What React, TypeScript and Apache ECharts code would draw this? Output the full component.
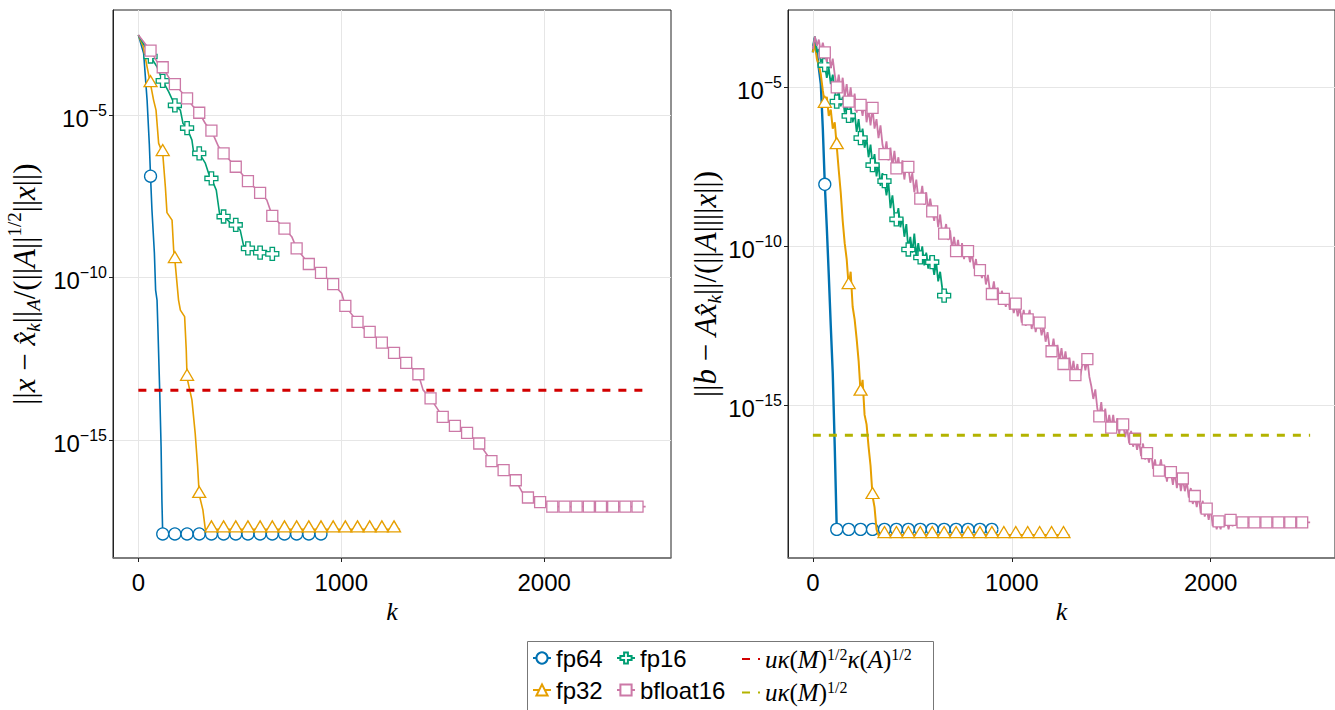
import { useEffect, useRef } from 'react';
import * as echarts from 'echarts';

// ---------------- data ----------------
const STEP = 10; // sampling step (iterations) of the noisy residual histories
const MARK_EVERY = 60; // a marker every 60 iterations

const xTicks = [0, 1000, 2000];
const yTicks = [-15, -10, -5];

const names = ['fp64', 'fp32', 'fp16', 'bfloat16'];
const colors = ['#0072b2', '#e69f00', '#009e73', '#cc79a7'];
const redName = 'uκ(M)^(1/2)κ(A)^(1/2)';
const oliveName = 'uκ(M)^(1/2)';

// Left panel: log10 of ||x - x_k||_A / (||A||^(1/2) ||x||), as [k, log10]
const errFp64: number[][] = [[0, -2.54], [26, -3.1], [43, -4.54], [54, -5.9], [60, -6.88], [67, -7.92], [79, -9.25], [85, -10.38], [92, -10.69], [97, -11.7], [105, -13.45], [112, -15.2], [116, -16.84], [120, -17.88]];
const errFp64Floor = -17.88;
const errFp64End = 920;

const errFp32: number[][] = [[0, -2.54], [24, -2.9], [43, -3.52], [60, -4.05], [75, -4.54], [87, -4.85], [100, -5.87], [120, -6.17], [133, -7.2], [141, -8.0], [166, -8.23], [174, -9.15], [180, -9.46], [198, -10.69], [207, -11.0], [228, -11.2], [236, -12.22], [240, -13.08], [264, -13.76], [280, -14.78], [292, -15.8], [300, -16.68], [318, -17.14], [330, -17.74]];
const errFp32Floor = -17.74;
const errFp32End = 1290;

const errFp16: number[][] = [[0, -2.54], [43, -3.0], [60, -3.2], [92, -3.52], [120, -3.95], [149, -4.28], [180, -4.7], [207, -4.85], [220, -5.26], [240, -5.4], [264, -5.77], [272, -6.13], [300, -6.18], [330, -6.48], [346, -6.79], [360, -6.95], [384, -7.31], [400, -8.02], [420, -8.12], [453, -8.31], [480, -8.38], [502, -8.54], [518, -9.0], [540, -9.1], [567, -9.17], [600, -9.23], [633, -9.27], [660, -9.27], [690, -9.28]];

const errBf16: number[][] = [[0, -2.54], [60, -3.02], [92, -3.36], [120, -3.53], [157, -3.92], [180, -4.05], [240, -4.49], [272, -4.75], [300, -4.93], [330, -5.26], [360, -5.48], [395, -5.97], [420, -6.18], [480, -6.59], [540, -7.03], [600, -7.39], [633, -7.61], [660, -8.1], [720, -8.49], [756, -8.74], [780, -9.1], [840, -9.58], [900, -9.85], [960, -10.2], [1002, -10.48], [1020, -10.87], [1080, -11.36], [1110, -11.56], [1140, -11.67], [1200, -12.0], [1260, -12.31], [1320, -12.62], [1380, -12.97], [1403, -13.45], [1440, -13.71], [1500, -14.28], [1560, -14.56], [1620, -14.77], [1680, -15.1], [1740, -15.64], [1800, -15.92], [1860, -16.23], [1890, -16.58], [1920, -16.76], [1980, -16.9], [2040, -17.04]];
const errBf16Floor = -17.04;
const errBf16End = 2500;

const errRef = -13.46; // u kappa(M)^(1/2) kappa(A)^(1/2)

// Right panel: log10 of ||b - A x_k|| / (||A|| ||x||), sampled every STEP iterations
const resFp64 = [-3.9, -3.45, -3.9, -4.4, -4.9, -6.3, -8.05, -9.4, -10.9, -12.5, -14.0, -16.3, -18.9];
const resFp64Floor = -18.9;
const resFp64End = 920;

const resFp32 = [
  -3.9, -3.6, -4.1, -4.3, -4.6, -5.1,
  -5.55, -5.3, -5.9, -5.7, -6.3, -6.1,
  -6.85, -7.6, -8.3, -9.2, -9.9, -10.4,
  -11.25, -10.8, -11.9, -12.3, -12.9, -13.6,
  -14.6, -14.2, -15.3, -15.6, -16.3, -16.9,
  -17.85, -18.2, -18.9, -19.08,
];
const resFp32Floor = -19.08;
const resFp32End = 1290;

const resFp16 = [
  -3.7, -3.4, -3.9, -3.8, -4.2, -4.1,
  -4.3, -4.7, -4.4, -4.9, -4.6, -5.1,
  -5.45, -5.1, -5.6, -5.3, -5.8, -5.5,
  -5.9, -5.6, -6.1, -5.8, -6.4, -6.0,
  -6.6, -6.3, -6.9, -6.6, -7.2, -6.8,
  -7.45, -7.1, -7.8, -7.4, -8.1, -7.7,
  -7.95, -8.4, -8.0, -8.8, -8.4, -9.0,
  -9.15, -8.8, -9.4, -9.1, -9.7, -9.3,
  -10.1, -9.7, -10.2, -9.6, -10.3, -9.9,
  -10.35, -10.0, -10.6, -10.2, -10.7, -10.3,
  -10.5, -10.9, -10.5, -11.1, -10.8, -11.3,
  -11.55, -11.4, -11.6,
];

const resBf16 = [
  -3.8, -3.4, -3.7, -3.5, -3.9, -3.6,
  -3.9, -4.2, -3.8, -4.4, -4.1, -4.6,
  -5.0, -4.6, -5.1, -4.7, -5.3, -4.9,
  -5.45, -5.0, -5.6, -5.2, -5.8, -5.4,
  -5.55, -5.9, -5.4, -6.1, -5.7, -6.2,
  -5.65, -6.3, -6.0, -6.6, -6.2, -6.8,
  -7.1, -6.7, -7.3, -6.9, -7.5, -7.0,
  -7.55, -7.2, -7.7, -7.3, -7.9, -7.4,
  -7.5, -8.0, -7.7, -8.3, -7.9, -8.5,
  -8.5, -8.1, -8.7, -8.3, -8.9, -8.5,
  -8.9, -9.2, -8.8, -9.4, -9.0, -9.6,
  -9.6, -9.3, -9.8, -9.5, -10.1, -9.7,
  -10.15, -9.8, -10.3, -9.9, -10.4, -10.0,
  -10.15, -10.5, -10.2, -10.7, -10.4, -10.9,
  -10.75, -11.0, -10.7, -11.2, -10.9, -11.4,
  -11.5, -11.1, -11.6, -11.3, -11.8, -11.4,
  -11.65, -11.9, -11.5, -12.0, -11.7, -12.1,
  -11.8, -12.2, -11.9, -12.4, -12.0, -12.5,
  -12.3, -12.0, -12.6, -12.2, -12.7, -12.4,
  -12.4, -12.8, -12.5, -13.0, -12.7, -13.2,
  -13.3, -12.9, -13.4, -13.1, -13.6, -13.2,
  -13.7, -13.3, -13.8, -13.5, -14.0, -13.6,
  -14.05, -13.7, -14.2, -13.9, -13.5, -13.9,
  -13.55, -14.1, -14.4, -14.8, -14.5, -15.1,
  -15.35, -14.9, -15.5, -15.1, -15.7, -15.3,
  -15.7, -15.3, -15.8, -15.4, -15.9, -15.5,
  -15.6, -16.0, -15.7, -16.2, -15.8, -16.3,
  -16.05, -16.4, -16.1, -16.6, -16.2, -16.7,
  -16.5, -16.8, -16.4, -17.0, -16.7, -17.2,
  -17.05, -16.7, -17.2, -16.9, -17.4, -17.0,
  -17.1, -17.5, -17.1, -17.6, -17.2, -17.7,
  -17.3, -17.7, -17.4, -17.9, -17.6, -18.1,
  -17.85, -18.2, -17.8, -18.4, -18.0, -18.5,
  -18.25, -18.6, -18.2, -18.8, -18.5, -18.9,
  -18.65, -18.9, -18.5, -18.8, -18.6, -18.9,
  -18.6, -18.8, -18.6, -18.75, -18.65, -18.8,
  -18.68, -18.75, -18.65, -18.7, -18.68, -18.72,
];
const resBf16Floor = -18.68;
const resBf16End = 2500;

const resRef = -15.94; // u kappa(M)^(1/2)

// ---------------- helpers ----------------
function withFloor(pts: number[][], floor?: number, end?: number): number[][] {
  const out = pts.map((p) => [p[0], p[1]]);
  if (floor !== undefined && end !== undefined) {
    const last = out[out.length - 1][0];
    for (let k = (Math.floor(last / MARK_EVERY) + 1) * MARK_EVERY; k < end; k += MARK_EVERY) out.push([k, floor]);
    out.push([end, floor]);
  }
  return out;
}
function fromSteps(vals: number[]): number[][] {
  return vals.map((v, i) => [i * STEP, v]);
}
function toItems(pts: number[][]) {
  return pts.map(([k, v]) => (k > 0 && k % MARK_EVERY === 0 ? { value: [k, v] } : { value: [k, v], symbol: 'none' }));
}

const CROSS = 'path://M3.3,0 H6.7 V3.3 H10 V6.7 H6.7 V10 H3.3 V6.7 H0 V3.3 H3.3 Z';
const symbols: any[] = [
  { symbol: 'circle', symbolSize: 12, symbolOffset: [0, 0] },
  { symbol: 'triangle', symbolSize: [13, 11], symbolOffset: [0, -3] },
  { symbol: CROSS, symbolSize: 13, symbolOffset: [0, 0] },
  { symbol: 'rect', symbolSize: 11, symbolOffset: [0, 0] },
];

const SANS = 'Liberation Sans';
const SERIF = 'Liberation Serif';

function markSeries(i: number, pts: number[][], axis: number, width: number) {
  return {
    type: 'line',
    name: names[i],
    xAxisIndex: axis,
    yAxisIndex: axis,
    data: toItems(pts),
    ...symbols[i],
    showSymbol: true,
    color: colors[i],
    lineStyle: { color: colors[i], width },
    itemStyle: { color: '#ffffff', borderColor: colors[i], borderWidth: 1.3 },
    z: 2 + i,
    silent: true,
    emphasis: { disabled: true },
  };
}

function refSeries(name: string, color: string, value: number, axis: number) {
  return {
    type: 'line',
    name,
    xAxisIndex: axis,
    yAxisIndex: axis,
    data: [[0, value], [2500, value]],
    symbol: 'none',
    color,
    lineStyle: { color, width: 3, type: [8, 8] },
    itemStyle: { opacity: 0 },
    z: 8,
    silent: true,
    emphasis: { disabled: true },
  };
}

const tickRich = {
  b: { fontFamily: SANS, fontSize: 24, color: '#000', lineHeight: 30, verticalAlign: 'bottom' },
  s: { fontFamily: SANS, fontSize: 16, color: '#000', lineHeight: 16, verticalAlign: 'top', padding: [2, 0, 0, 0] },
};

const nameRich = {
  r: { fontFamily: SERIF, fontSize: 31, color: '#000', lineHeight: 38 },
  i: { fontFamily: SERIF, fontStyle: 'italic', fontSize: 31, color: '#000', lineHeight: 38 },
  k: { fontFamily: SERIF, fontStyle: 'italic', fontSize: 26, color: '#000', lineHeight: 30 },
  sub: { fontFamily: SERIF, fontStyle: 'italic', fontSize: 19, color: '#000', lineHeight: 19, verticalAlign: 'bottom' },
  sup: { fontFamily: SERIF, fontSize: 19, color: '#000', lineHeight: 19, verticalAlign: 'top' },
};

const legendRich = {
  r: { fontFamily: SERIF, fontSize: 25, color: '#000', lineHeight: 26 },
  i: { fontFamily: SERIF, fontStyle: 'italic', fontSize: 25, color: '#000', lineHeight: 26 },
  sup: { fontFamily: SERIF, fontSize: 16, color: '#000', lineHeight: 15, verticalAlign: 'top' },
};

function xAxis(grid: number) {
  return {
    type: 'value',
    gridIndex: grid,
    min: -125,
    max: 2625,
    name: '{k|k}',
    nameLocation: 'middle',
    nameGap: 38,
    nameTextStyle: { rich: nameRich },
    axisLine: { show: true, onZero: false, lineStyle: { color: '#777', width: 1.5 } },
    axisTick: { show: true, customValues: xTicks, length: 4, inside: false, lineStyle: { color: '#222' } },
    axisLabel: { customValues: xTicks, fontFamily: SANS, fontSize: 24, color: '#000', margin: 12, formatter: (v: number) => String(v) },
    splitLine: { show: true, lineStyle: { color: '#e6e6e6', width: 1 } },
  };
}

function yAxis(grid: number, min: number, max: number, name: string, gap: number) {
  return {
    type: 'value',
    gridIndex: grid,
    min,
    max,
    name,
    nameLocation: 'middle',
    nameRotate: 90,
    nameGap: gap,
    nameTextStyle: { rich: nameRich },
    axisLine: { show: true, onZero: false, lineStyle: { color: '#222', width: 1 } },
    axisTick: { show: true, customValues: yTicks, length: 4, lineStyle: { color: '#222' } },
    axisLabel: {
      customValues: yTicks,
      margin: 6,
      formatter: (v: number) => `{b|10}{s|−${Math.abs(v)}}`,
      rich: tickRich,
    },
    splitLine: { show: true, lineStyle: { color: '#e6e6e6', width: 1 } },
  };
}

const leftName = '{r|||}{i|x}{r| − }{i|x̂}{sub|k}{r|||}{sub|A}{r|/(||}{i|A}{r|||}{sup|1/2}{r|||}{i|x}{r|||)}';
const rightName = '{r|||}{i|b}{r| − }{i|Ax̂}{sub|k}{r|||/(||}{i|A}{r|||||}{i|x}{r|||)}';

function legendFormatter(name: string) {
  if (name === redName) return '{i|uκ}{r|(}{i|M}{r|)}{sup|1/2}{i|κ}{r|(}{i|A}{r|)}{sup|1/2}';
  if (name === oliveName) return '{i|uκ}{r|(}{i|M}{r|)}{sup|1/2}';
  return name;
}

function legend(data: any[], left: number) {
  return {
    data,
    orient: 'vertical',
    left,
    top: 646,
    itemWidth: 18,
    itemHeight: 14,
    itemGap: 8,
    padding: 0,
    selectedMode: false,
    formatter: legendFormatter,
    textStyle: { fontFamily: SANS, fontSize: 24, color: '#000', rich: legendRich },
  };
}

export default function App() {
  const ref = useRef<HTMLDivElement>(null);
  useEffect(() => {
    if (!ref.current) return;
    const chart = echarts.init(ref.current, null, { renderer: 'svg' });
    const option: any = {
      animation: false,
      backgroundColor: '#ffffff',
      grid: [
        { left: 113, top: 10, right: 664, bottom: 152, show: true, borderColor: '#222', borderWidth: 1, backgroundColor: 'transparent' },
        { left: 788, top: 10, right: -13, bottom: 152, show: true, borderColor: '#222', borderWidth: 1, backgroundColor: 'transparent' },
      ],
      xAxis: [xAxis(0), xAxis(1)],
      yAxis: [yAxis(0, -18.62, -1.77, leftName, 70), yAxis(1, -19.8, -2.57, rightName, 64)],
      legend: [
        legend(['fp64', 'fp32'], 532),
        legend(['fp16', 'bfloat16'], 616),
        legend([
          { name: redName, itemStyle: { opacity: 0 } },
          { name: oliveName, itemStyle: { opacity: 0 } },
        ], 741),
      ],
      graphic: [
        { type: 'rect', shape: { x: 527.5, y: 641.5, width: 406, height: 80 }, style: { fill: '#fff', stroke: '#777', lineWidth: 1 }, z: 0 },
      ],
      series: [
        markSeries(0, withFloor(errFp64, errFp64Floor, errFp64End), 0, 1.6),
        markSeries(1, withFloor(errFp32, errFp32Floor, errFp32End), 0, 1.6),
        markSeries(2, withFloor(errFp16), 0, 1.6),
        markSeries(3, withFloor(errBf16, errBf16Floor, errBf16End), 0, 1.6),
        refSeries(redName, '#d20000', errRef, 0),
        markSeries(0, withFloor(fromSteps(resFp64), resFp64Floor, resFp64End), 1, 2.4),
        markSeries(1, withFloor(fromSteps(resFp32), resFp32Floor, resFp32End), 1, 2),
        markSeries(2, withFloor(fromSteps(resFp16)), 1, 1.8),
        markSeries(3, withFloor(fromSteps(resBf16), resBf16Floor, resBf16End), 1, 1.8),
        refSeries(oliveName, '#b3b300', resRef, 1),
      ],
    };
    chart.setOption(option);
    return () => chart.dispose();
  }, []);
  return <div ref={ref} style={{ position: 'fixed', left: 0, top: 0, width: 1335, height: 710, background: '#fff' }} />;
}
